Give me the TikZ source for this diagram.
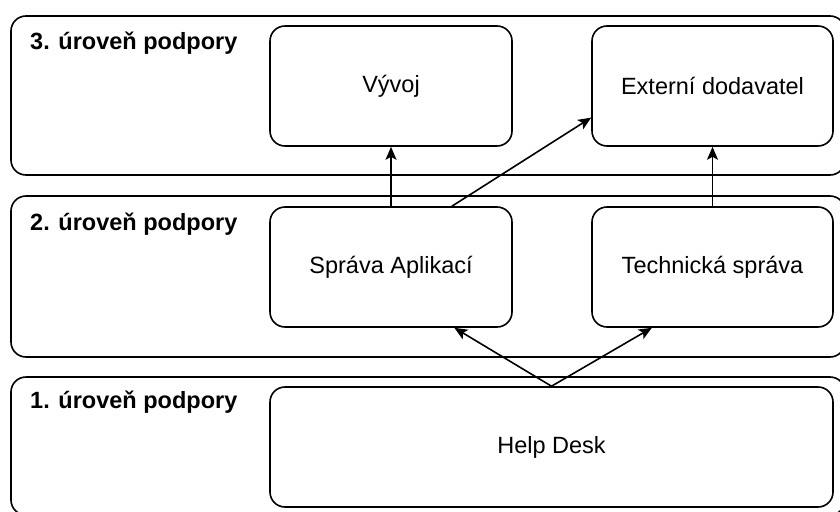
\documentclass[tikz,border=0pt]{standalone}
\usepackage{fontspec}
\setmainfont{Liberation Sans}
\usetikzlibrary{arrows.meta,calc}
\begin{document}
\begin{tikzpicture}[x=1pt,y=-1pt,
  lane/.style={draw, line width=1.6pt, rounded corners=15pt, inner sep=0pt},
  unit/.style={draw, line width=1.6pt, rounded corners=15pt, fill=white,
    inner sep=0pt, font=\fontsize{23.5}{28}\selectfont},
  lanelabel/.style={anchor=base west, inner sep=0pt,
    font=\fontsize{23.5}{28}\selectfont\bfseries},
  flow/.style={line width=1.6pt, -{Stealth[length=13pt,width=11pt,inset=3pt]}}]
\useasboundingbox (0,0) rectangle (840,511);
\clip (0,0) rectangle (840,511);

% support levels (swimlanes)
\node[lane, minimum width=834pt, minimum height=159pt] (l3) at (428,95.5) {};
\node[lane, minimum width=834pt, minimum height=161pt] (l2) at (428,276.5) {};
\node[lane, minimum width=834pt, minimum height=138pt] (l1) at (428,446) {};

\node[lanelabel] (t3) at (30,50) {3. úroveň podpory};
\node[lanelabel] (t2) at (30,230) {2. úroveň podpory};
\node[lanelabel] (t1) at (30,408) {1. úroveň podpory};

% teams
\node[unit, minimum width=242pt, minimum height=120pt] (vy) at (391,86) {Vývoj};
\node[unit, minimum width=241pt, minimum height=120pt] (ed) at (712.5,86) {Externí dodavatel};
\node[unit, minimum width=242pt, minimum height=120pt] (sa) at (391,267) {Správa Aplikací};
\node[unit, minimum width=241pt, minimum height=120pt] (ts) at (712.5,267) {Technická správa};
\node[unit, minimum width=563pt, minimum height=120pt] (hd) at (551.5,447) {Help Desk};

% escalation paths
\coordinate (saTop) at ($(sa.north west)!0.75!(sa.north east)$);
\coordinate (saBot) at ($(sa.south west)!0.76!(sa.south east)$);
\coordinate (tsBot) at ($(ts.south west)!0.25!(ts.south east)$);
\coordinate (edIn)  at ($(ed.north west)!0.76!(ed.south west)$);

\draw[flow] (sa.north) -- (vy.south);
\draw[flow] (ts.north) -- (ed.south);
\draw[flow] (saTop) -- (edIn);
\draw[flow] (hd.north) -- (saBot);
\draw[flow] (hd.north) -- (tsBot);
\end{tikzpicture}
\end{document}
